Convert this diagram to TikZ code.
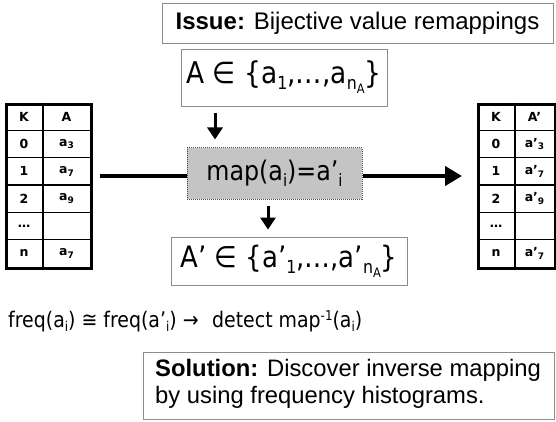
\documentclass[tikz,border=0pt]{standalone}
\usepackage{fontspec}
\setmainfont{Liberation Sans}
\newfontfamily\tah[FakeStretch=0.88]{DejaVu Sans}
\newfontfamily\tabf{DejaVu Sans}
\usetikzlibrary{arrows.meta}
\definecolor{boxline}{HTML}{8C8C8C}
\definecolor{mapfill}{HTML}{C4C4C4}
\newcommand\lo[3]{\raisebox{-#2}{\fontsize{#1}{#1}\selectfont #3}}
\newcommand\hi[3]{\raisebox{#2}{\fontsize{#1}{#1}\selectfont #3}}
\newcommand\trow[5]{%
  \node[cell] (#1l#2) at ([xshift=19pt,yshift={-(#2+0.5)*27.33pt}]#1.north west) {#3};
  \node[cell] (#1r#2) at ([xshift=#5,yshift={-(#2+0.5)*27.33pt}]#1.north west) {#4};}
\tikzset{
  tboxst/.style={draw=boxline, line width=0.9pt, inner sep=0pt},
  varr/.style={line width=3pt, -{Triangle[width=15pt,length=12pt]}},
  harr/.style={line width=4.5pt},
  tabframe/.style={draw, line width=3pt, inner sep=0pt, anchor=north west, minimum height=164pt},
  cell/.style={font=\tabf\bfseries\fontsize{12.5}{14}\selectfont, inner sep=0pt},
  inner/.style={line width=1.3pt},
  soltext/.style={anchor=base west, inner sep=0pt, font=\fontsize{23.8}{26}\selectfont},
}
\begin{document}
\begin{tikzpicture}[x=1pt,y=-1pt]
\useasboundingbox (0,0) rectangle (556,422);

% Issue box
\node[tboxst, minimum width=391pt, minimum height=40pt,
      font=\fontsize{24}{26}\selectfont] (issue) at (357.5,23)
      {\textbf{Issue:} Bijective value remappings\hspace{4pt}};

% A set box
\node[tboxst, minimum width=206pt, minimum height=57pt,
      font=\tah\fontsize{30}{31}\selectfont] (aset) at (284,77.5)
      {A ∈ \{a\lo{18}{6pt}{1},…,a\lo{18}{6pt}{n\lo{13}{4pt}{A}}\}};

% map box
\node[draw=black!70, densely dotted, line width=1pt, fill=mapfill, inner sep=0pt,
      minimum width=175pt, minimum height=51pt,
      font=\tah\fontsize{27}{29}\selectfont] (map) at (274.5,173.5)
      {map(a\lo{17}{6pt}{i})=a’\lo{17}{6pt}{i}};

% A' set box
\node[tboxst, minimum width=236pt, minimum height=48pt,
      font=\tah\fontsize{29.5}{31}\selectfont] (apset) at (289,261)
      {A’ ∈ \{a’\lo{18}{6pt}{1},…,a’\lo{18}{6pt}{n\lo{13}{4pt}{A}}\}};

% tables
\node[tabframe, minimum width=85pt] (lt) at (5,103) {};
\node[tabframe, minimum width=77pt] (rt) at (477,103) {};
\foreach \t in {lt,rt}{
  \draw[inner] ([xshift=38pt]\t.north west) -- ([xshift=38pt]\t.south west);
  \foreach \k in {1,...,5}
    \draw[inner] ([yshift={-\k*27.33pt}]\t.north west) -- ([yshift={-\k*27.33pt}]\t.north east);
}
\trow{lt}{0}{K}{A}{61.5pt}
\trow{lt}{1}{0}{a\lo{9}{2.5pt}{3}}{61.5pt}
\trow{lt}{2}{1}{a\lo{9}{2.5pt}{7}}{61.5pt}
\trow{lt}{3}{2}{a\lo{9}{2.5pt}{9}}{61.5pt}
\trow{lt}{4}{…}{}{61.5pt}
\trow{lt}{5}{n}{a\lo{9}{2.5pt}{7}}{61.5pt}
\trow{rt}{0}{K}{A’}{57.5pt}
\trow{rt}{1}{0}{a’\lo{9}{2.5pt}{3}}{57.5pt}
\trow{rt}{2}{1}{a’\lo{9}{2.5pt}{7}}{57.5pt}
\trow{rt}{3}{2}{a’\lo{9}{2.5pt}{9}}{57.5pt}
\trow{rt}{4}{…}{}{57.5pt}
\trow{rt}{5}{n}{a’\lo{9}{2.5pt}{7}}{57.5pt}

% connectors
\coordinate (ly) at (0,176);
\coordinate (x1) at (215,0);
\coordinate (x2) at (268,0);
\draw[harr, shorten <=7pt] (lt.east |- ly) -- (map.west |- ly);
\draw[harr, shorten >=15pt, -{Triangle[width=19pt,length=17pt]}] (map.east |- ly) -- (rt.west |- ly);
\draw[varr, shorten <=7pt, shorten >=8pt] (aset.south -| x1) -- (map.north -| x1);
\draw[varr, shorten <=6pt, shorten >=7pt] (map.south -| x2) -- (apset.north -| x2);

% freq line
\node[anchor=base west, inner sep=0pt, font=\tah\fontsize{21.5}{24}\selectfont] (freq) at (8,327)
  {freq(a\lo{13.5}{4pt}{i}) ≅ freq(a’\lo{13.5}{4pt}{i}) →\hspace{0.35em} detect map\hi{13.5}{7pt}{-1}(a\lo{13.5}{4pt}{i})};

% Solution box
\node[tboxst, anchor=north west, minimum width=411pt, minimum height=67pt] (sol) at (143,352) {};
\node[soltext] (sol1) at (155,376) {\textbf{Solution:} Discover inverse mapping};
\node[soltext] (sol2) at (155,403) {by using frequency histograms.};
\end{tikzpicture}
\end{document}
